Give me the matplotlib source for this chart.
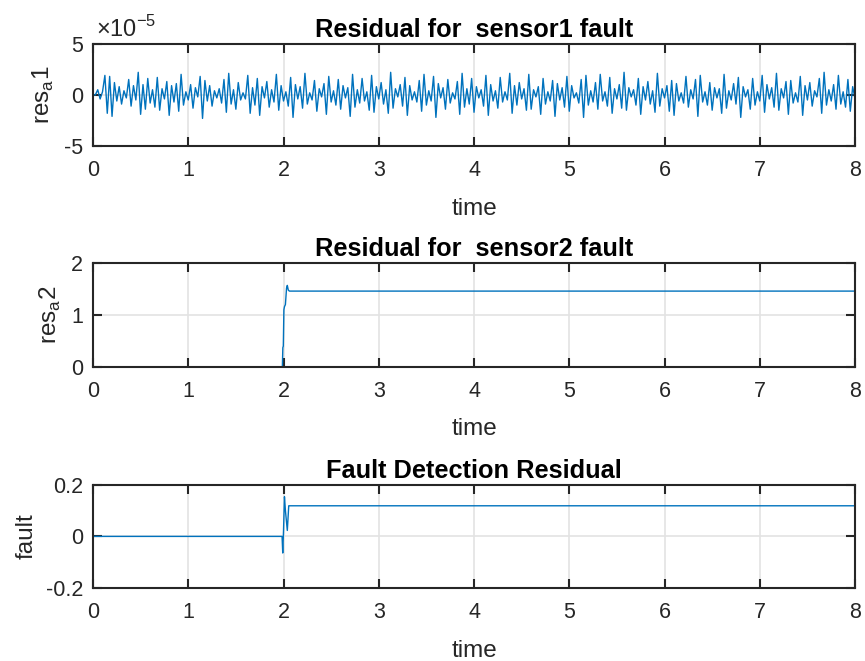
import numpy as np
import matplotlib
matplotlib.use("Agg")
import matplotlib.pyplot as plt

plt.rcParams['font.family'] = ['Liberation Sans', 'DejaVu Sans']
plt.rcParams['mathtext.fontset'] = 'custom'
plt.rcParams['mathtext.rm'] = 'Liberation Sans'
plt.rcParams['axes.unicode_minus'] = False

# sensor1 residual, sampled every 0.025 s (units of 1e-5)
res1_t = np.arange(321) * 0.025
res1_vals = [
    0.0, 0.0, 0.5, -0.4, 0.3, 1.9, -1.8, 1.8, -2.1, 1.2, -0.6, 0.8, -0.9, 0.4, -0.3, 1.5, -1.1, 0.9, -0.5, 2.2,
    -1.9, 1.0, -1.4, 1.6, -0.8, 0.5, -1.2, 1.7, -1.5, 0.6, -0.4, 1.3, -2.0, 0.9, -0.7, 1.1, -1.6, 2.0, -1.0, 0.3,
    -0.5, 1.0, -1.3, 0.7, -0.2, 1.8, -2.3, 1.4, -0.6, 0.9, -1.1, 0.4, -0.3, 0.6, -0.8, 1.5, -1.7, 2.1, -0.9, 0.5,
    -1.4, 1.2, -0.5, 0.2, -0.4, 1.9, -1.8, 0.7, -1.0, 1.6, -2.0, 0.8, -0.3, 1.3, -1.2, 0.5, -0.7, 2.0, -1.5, 0.9,
    -0.6, 0.3, -1.1, 1.7, -2.2, 1.0, -0.4, 0.8, -1.3, 2.1, -0.9, 0.2, -0.5, 1.4, -1.6, 0.6, -0.2, 1.1, -1.9, 1.8,
    -0.7, 0.4, -1.0, 1.5, -1.4, 0.9, -0.3, 0.7, -2.1, 2.0, -1.2, 0.5, -0.8, 1.6, -0.6, 0.3, -1.5, 1.9, -1.7, 0.8,
    -0.4, 1.2, -0.9, 0.5, -1.8, 2.2, -1.3, 0.6, -0.2, 1.0, -1.1, 1.7, -2.0, 0.9, -0.5, 0.3, -0.7, 1.4, -1.6, 2.0,
    -1.0, 0.4, -0.6, 1.8, -2.2, 1.1, -0.3, 0.7, -1.4, 1.5, -0.8, 0.2, -0.4, 1.3, -1.9, 2.1, -1.2, 0.6, -0.9, 1.6,
    -1.7, 0.8, -0.3, 0.5, -1.1, 1.9, -2.0, 1.0, -0.6, 0.4, -1.3, 1.7, -0.7, 0.3, -0.5, 2.1, -1.8, 0.9, -1.0, 1.2,
    -0.4, 0.6, -1.5, 2.0, -1.4, 0.5, -0.2, 0.8, -1.9, 1.6, -0.9, 0.3, -0.6, 1.4, -2.1, 1.1, -0.5, 0.7, -1.2, 1.8,
    -1.6, 0.9, -0.3, 0.2, -0.8, 1.5, -2.2, 1.9, -1.0, 0.4, -0.7, 1.2, -1.4, 2.0, -0.6, 0.3, -1.1, 1.7, -1.8, 0.6,
    -0.4, 1.0, -1.3, 2.2, -1.5, 0.7, -0.2, 0.5, -1.0, 1.6, -1.9, 0.8, -0.5, 1.3, -0.9, 0.4, -1.7, 2.1, -1.1, 0.6,
    -0.3, 0.9, -1.6, 1.4, -2.0, 1.1, -0.6, 0.2, -0.8, 1.8, -1.2, 0.5, -0.4, 1.5, -2.1, 1.9, -0.7, 0.3, -1.0, 1.2,
    -1.5, 0.7, -0.3, 0.6, -1.8, 2.0, -1.3, 0.4, -0.5, 1.1, -0.9, 1.7, -2.2, 0.8, -0.2, 0.5, -1.4, 1.6, -1.0, 0.3,
    -0.6, 1.9, -1.7, 1.0, -0.4, 0.7, -1.2, 2.1, -1.5, 0.6, -0.3, 1.3, -1.9, 1.4, -0.8, 0.2, -0.7, 1.8, -2.0, 0.9,
    -0.5, 1.2, -1.1, 0.4, -0.2, 1.6, -1.8, 2.2, -1.0, 0.5, -0.6, 1.0, -1.4, 1.9, -0.9, 0.3, -1.2, 1.5, -1.6, 0.8,
    -0.4,
]
res1 = np.array(res1_vals) * 1e-5

# sensor2 residual: step at t = 2 s
res2_t = [0.0, 1.988, 1.993, 1.998, 2.004, 2.010, 2.020, 2.032, 2.040, 2.050, 2.062, 8.0]
res2 = [0.0, 0.0, 0.37, 0.40, 1.10, 1.16, 1.20, 1.52, 1.57, 1.48, 1.46, 1.46]

# fault detection residual
fault_t = [0.0, 1.985, 1.992, 2.000, 2.010, 2.020, 2.040, 2.055, 8.0]
fault = [0.0, 0.0, -0.064, 0.02, 0.153, 0.10, 0.023, 0.118, 0.118]

line_color = '#0072BD'
grid_color = '#e3e3e3'
text_color = '#262626'

fig = plt.figure(figsize=(8.65, 6.61), dpi=100)
ax1 = fig.add_axes([0.1075, 0.779, 0.881, 0.155])
ax2 = fig.add_axes([0.1075, 0.445, 0.881, 0.157])
ax3 = fig.add_axes([0.1075, 0.110, 0.881, 0.157])


def style_axes(ax, title, ylabel, ylim, yticks, yticklabels):
    ax.set_xlim(0, 8)
    ax.set_ylim(*ylim)
    ax.set_xticks(range(9))
    ax.set_yticks(yticks)
    ax.set_yticklabels(yticklabels)
    ax.grid(True, color=grid_color, linewidth=1.2)
    ax.set_axisbelow(True)
    for sp in ax.spines.values():
        sp.set_linewidth(1.5)
        sp.set_color(text_color)
    ax.tick_params(direction='in', length=6.5, width=1.5, color=text_color,
                   top=True, right=True, labelsize=15.5, labelcolor=text_color)
    ax.tick_params(axis='x', pad=10)
    ax.tick_params(axis='y', pad=7)
    ax.set_title(title, fontsize=18.3, fontweight='bold', color='black', pad=5)
    ax.set_xlabel('time', fontsize=17.5, color=text_color, labelpad=12)
    ax.set_ylabel(ylabel, fontsize=17.5, color=text_color, labelpad=6)


ax1.plot(res1_t, res1, color=line_color, linewidth=1.0)
style_axes(ax1, 'Residual for  sensor1 fault', r'res$_\mathregular{a}$1',
           (-5e-5, 5e-5), [-5e-5, 0, 5e-5], ['-5', '0', '5'])
ax1.text(0.004, 1.02, r'×10$^{\mathregular{-5}}$', transform=ax1.transAxes,
         fontsize=17, color=text_color, ha='left', va='bottom')

ax2.plot(res2_t, res2, color=line_color, linewidth=1.0)
style_axes(ax2, 'Residual for  sensor2 fault', r'res$_\mathregular{a}$2',
           (0, 2), [0, 1, 2], ['0', '1', '2'])

ax3.plot(fault_t, fault, color=line_color, linewidth=1.0)
style_axes(ax3, 'Fault Detection Residual', 'fault',
           (-0.2, 0.2), [-0.2, 0, 0.2], ['-0.2', '0', '0.2'])

fig.savefig('out.png', dpi=100, facecolor='white')
